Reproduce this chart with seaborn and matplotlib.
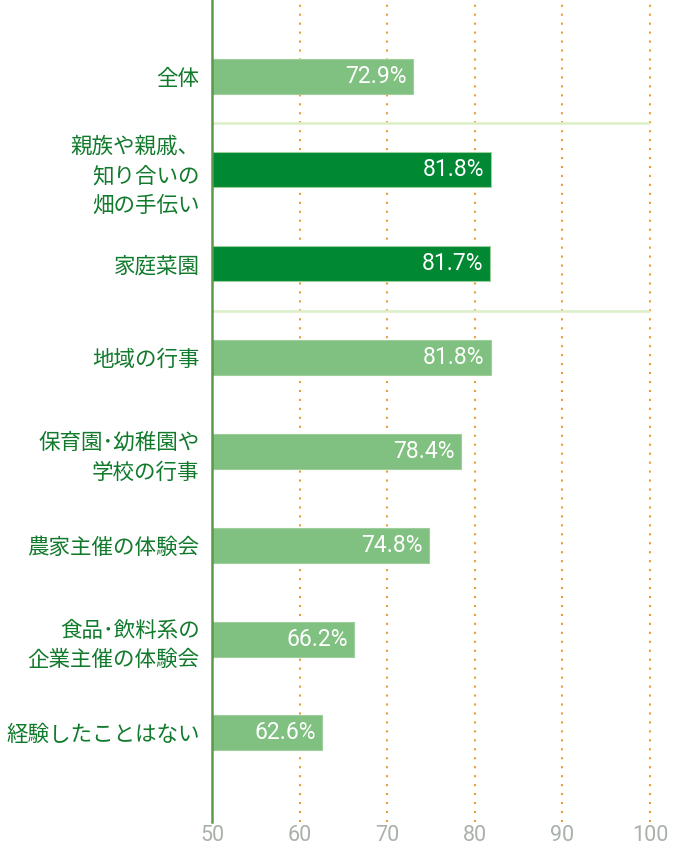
import matplotlib
matplotlib.use("Agg")
import matplotlib.pyplot as plt
import seaborn as sns
import pandas as pd

categories = ["全体", "親族や親戚、\n知り合いの\n畑の手伝い", "家庭菜園", "地域の行事",
              "保育園･幼稚園や\n学校の行事", "農家主催の体験会", "食品･飲料系の\n企業主催の体験会",
              "経験したことはない"]
values = [72.9, 81.8, 81.7, 81.8, 78.4, 74.8, 66.2, 62.6]
value_labels = ["72.9%", "81.8%", "81.7%", "81.8%", "78.4%", "74.8%", "66.2%", "62.6%"]
highlight = [False, True, True, False, False, False, False, False]
x_ticks = [50, 60, 70, 80, 90, 100]
separators = [0.5, 2.5]

sns.set_theme(style="white")
plt.rcParams['font.family'] = ['Noto Sans CJK JP', 'DejaVu Sans']

LIGHT = "#80c080"
DARK = "#008833"
TEXT_GREEN = "#127a2c"

df = pd.DataFrame({"cat": categories, "val": values})
palette = {c: (DARK if h else LIGHT) for c, h in zip(categories, highlight)}

fig = plt.figure(figsize=(6.73, 8.5), dpi=100)
ax = fig.add_axes([212/673, 28/850, 438/673, 822/850])

for xt in x_ticks[1:]:
    ax.axvline(xt, color="#e8a030", lw=1.5, linestyle=(0, (1, 3.3)), zorder=0, clip_on=False)
for s in separators:
    ax.axhline(s, color="#dcefc6", lw=1.8, zorder=0.5)

sns.barplot(data=df, x="val", y="cat", hue="cat", palette=palette, legend=False,
            width=0.373, saturation=1, ax=ax, zorder=2)
for p in ax.patches:
    p.set_edgecolor("#9ccf9c")
    p.set_linewidth(0.8)

for i, (v, lab) in enumerate(zip(values, value_labels)):
    ax.text(v - 0.7, i, lab, ha="right", va="center", color="white", fontsize=16.5,
            family=["Roboto", "DejaVu Sans"], zorder=3)

ax.set_xlim(50, 100)
ax.set_ylim(7.95, -0.81)
ax.set_xticks(x_ticks)
ax.set_xticklabels([str(t) for t in x_ticks], color="#aab0aa", fontsize=15.5,
                   family=["Roboto", "DejaVu Sans"])
ax.tick_params(axis="x", length=0, pad=2)
ax.tick_params(axis="y", length=0, pad=9)
for t in ax.get_yticklabels():
    t.set_color(TEXT_GREEN)
    t.set_fontsize(15.5)
    t.set_linespacing(1.45)
ax.set_xlabel("")
ax.set_ylabel("")
for side in ["top", "right", "bottom"]:
    ax.spines[side].set_visible(False)
ax.spines["left"].set_color("#5a9a4a")
ax.spines["left"].set_linewidth(1.8)
ax.spines["left"].set_zorder(4)

fig.savefig("out.png", dpi=100)
